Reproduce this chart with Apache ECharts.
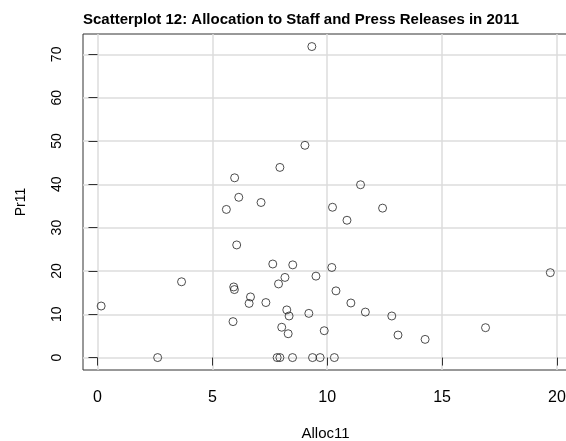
<!DOCTYPE html>
<html>
<head>
<meta charset="utf-8">
<script src="https://cdn.jsdelivr.net/npm/echarts@6/dist/echarts.min.js"></script>
<style>
  html, body { margin: 0; padding: 0; background: #fff; }
  #main { width: 566px; height: 441px; }
</style>
</head>
<body>
<div id="main"></div>
<script>
// values
var alloc11 = [0.16, 2.62, 3.66, 5.61, 6.06, 5.93, 5.96, 5.90, 5.97, 6.15,
               9.33, 9.03, 7.94, 7.12, 11.45, 10.23, 12.41, 10.86, 7.63, 8.50,
               10.20, 8.16, 9.51, 7.88, 6.66, 6.60, 7.33, 10.38, 11.03, 11.66,
               12.81, 13.08, 8.24, 8.34, 9.20, 8.02, 8.30, 9.87, 7.82, 7.94,
               8.49, 9.36, 9.69, 10.31, 14.26, 16.89, 19.71];
var pr11 = [11.9, 0, 17.5, 34.2, 26.0, 16.3, 15.7, 8.3, 41.5, 37.0,
            71.8, 49.0, 43.9, 35.8, 39.9, 34.7, 34.5, 31.7, 21.6, 21.4,
            20.8, 18.5, 18.8, 17.0, 14.0, 12.5, 12.7, 15.4, 12.6, 10.5,
            9.6, 5.2, 11.0, 9.6, 10.2, 7.0, 5.5, 6.2, 0, 0,
            0, 0, 0, 0, 4.2, 6.9, 19.6];
var xTicks = [0, 5, 10, 15, 20];
var yTicks = [0, 10, 20, 30, 40, 50, 60, 70];

var points = [];
for (var i = 0; i < alloc11.length; i++) {
    points.push([alloc11[i], pr11[i]]);
}

var chart = echarts.init(document.getElementById('main'));
var font = 'Liberation Sans, Arial, Helvetica, sans-serif';
var option = {
    animation: false,
    title: {
        text: 'Scatterplot 12: Allocation to Staff and Press Releases in 2011',
        left: 296,
        textAlign: 'center',
        top: 7,
        textStyle: { fontFamily: font, fontSize: 15, fontWeight: 'bold', color: '#000' }
    },
    grid: {
        left: 83, top: 34, right: -2, bottom: 71,
        outerBoundsMode: 'none',
        show: true, borderColor: '#333', borderWidth: 1
    },
    xAxis: {
        type: 'value',
        min: -0.63, max: 20.48,
        name: 'Alloc11',
        nameLocation: 'middle',
        nameGap: 56,
        nameTextStyle: { fontFamily: font, fontSize: 15, color: '#000' },
        axisLine: { show: false },
        axisTick: { show: true, length: 8, customValues: xTicks, lineStyle: { color: '#333' } },
        axisLabel: { customValues: xTicks, margin: 20, fontFamily: font, fontSize: 16, color: '#000' },
        splitLine: { show: true, lineStyle: { color: '#dcdcdc', width: 1.5 } }
    },
    yAxis: {
        type: 'value',
        min: -2.87, max: 74.7,
        name: 'Pr11',
        nameLocation: 'middle',
        nameGap: 55,
        nameRotate: 90,
        nameTextStyle: { fontFamily: font, fontSize: 14, color: '#000' },
        axisLine: { show: false },
        axisTick: { show: true, length: 9, customValues: yTicks, lineStyle: { color: '#333' } },
        axisLabel: { customValues: yTicks, rotate: 90, margin: 19, fontFamily: font, fontSize: 14, color: '#000' },
        splitLine: { show: true, lineStyle: { color: '#dcdcdc', width: 1.5 } }
    },
    series: [{
        type: 'scatter',
        data: points,
        symbol: 'circle',
        symbolSize: 8,
        itemStyle: { color: 'rgba(0,0,0,0)', borderColor: '#222', borderWidth: 1 }
    }]
};
chart.setOption(option);
</script>
</body>
</html>
